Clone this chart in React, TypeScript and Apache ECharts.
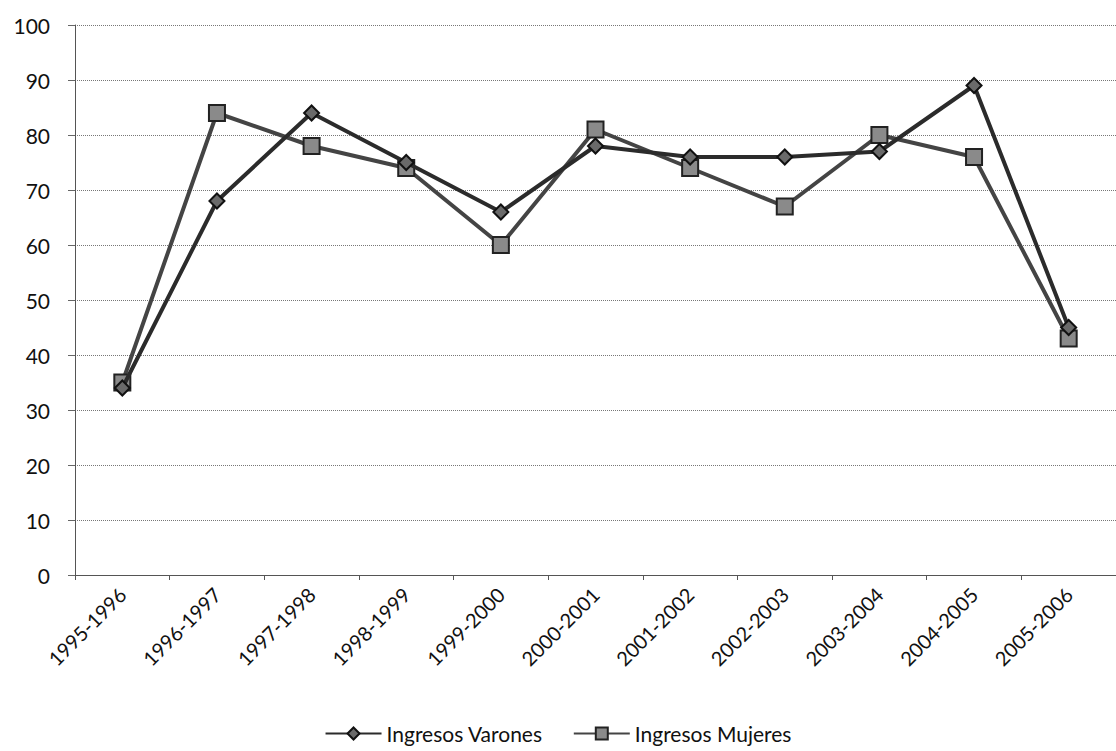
import React, { useEffect, useRef } from "react";
import * as echarts from "echarts";

const categories = [
  "1995-1996", "1996-1997", "1997-1998", "1998-1999", "1999-2000", "2000-2001",
  "2001-2002", "2002-2003", "2003-2004", "2004-2005", "2005-2006",
];
const varones = [34, 68, 84, 75, 66, 78, 76, 76, 77, 89, 45];
const mujeres = [35, 84, 78, 74, 60, 81, 74, 67, 80, 76, 43];
const seriesNames = ["Ingresos Varones", "Ingresos Mujeres"];

export default function App() {
  const ref = useRef<HTMLDivElement>(null);
  useEffect(() => {
    document.body.style.margin = "0";
    const chart = echarts.init(ref.current!, null, { renderer: "svg" });
    const font = "Lato, 'Open Sans', sans-serif";
    chart.setOption({
      animation: false,
      backgroundColor: "#ffffff",
      textStyle: { fontFamily: font },
      grid: { left: 75, right: -9, top: 25, bottom: 176, containLabel: false },
      xAxis: {
        type: "category",
        data: categories,
        boundaryGap: true,
        axisLine: { show: true, lineStyle: { color: "#555", width: 1 } },
        axisTick: { show: true, length: 5, lineStyle: { color: "#555" } },
        axisLabel: { rotate: 45, fontSize: 20, color: "#111", margin: 16, fontFamily: font },
        splitLine: { show: false },
      },
      yAxis: {
        type: "value",
        min: 0,
        max: 100,
        interval: 10,
        axisLine: { show: true, lineStyle: { color: "#555", width: 1 } },
        axisTick: { show: true, length: 7, lineStyle: { color: "#666" } },
        axisLabel: { fontSize: 21, color: "#111", margin: 25, fontFamily: font },
        splitLine: { show: true, lineStyle: { color: "#777", width: 1, type: "dotted" } },
      },
      legend: {
        bottom: 2,
        left: "center",
        itemWidth: 56,
        itemHeight: 15,
        itemGap: 30,
        textStyle: { fontSize: 21, color: "#111", fontFamily: font },
        data: seriesNames,
      },
      series: [
        {
          name: seriesNames[0],
          type: "line",
          data: varones,
          symbol: "diamond",
          symbolSize: 15,
          lineStyle: { color: "#2b2b2b", width: 4 },
          itemStyle: { color: "#6a6a6a", borderColor: "#111", borderWidth: 2 },
          z: 3,
        },
        {
          name: seriesNames[1],
          type: "line",
          data: mujeres,
          symbol: "rect",
          symbolSize: 16,
          lineStyle: { color: "#444", width: 4 },
          itemStyle: { color: "#8a8a8a", borderColor: "#222", borderWidth: 2 },
          z: 2,
        },
      ],
    });
    return () => chart.dispose();
  }, []);
  return <div ref={ref} style={{ width: 1116, height: 751 }} />;
}
